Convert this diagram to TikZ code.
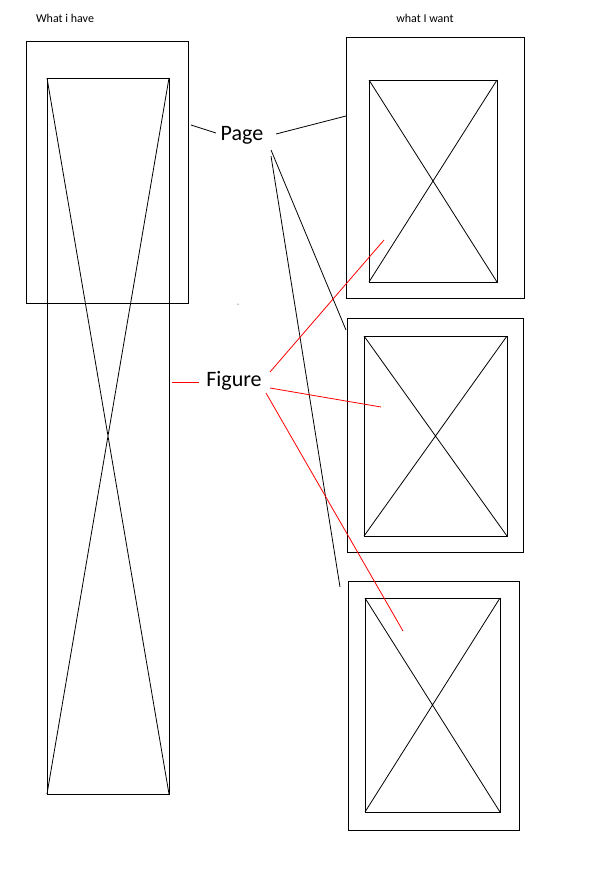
\documentclass[tikz,border=0pt]{standalone}
\usepackage{fontspec}
\setmainfont{Carlito}
\begin{document}
\begin{tikzpicture}[x=1pt,y=-1pt,line width=0.8pt,
  box/.style={draw=black,fill=none},
  lbl/.style={inner sep=0pt,font=\fontsize{22}{26}\selectfont},
  small/.style={inner sep=0pt,font=\fontsize{12}{14}\selectfont}]
\useasboundingbox (0,0) rectangle (604,892);
\fill[white] (0,0) rectangle (604,892);
\node[small] (t1) at (65,18) {What i have};
\node[small] (t2) at (425,18) {what I want};
% left
\draw[box] (26,41) rectangle (188,303);
\draw[box] (47,78) rectangle (169,794);
\draw (47,78) -- (169,794) (169,78) -- (47,794);
% right pages
\draw[box] (346,37) rectangle (524,298);
\draw[box] (369,80) rectangle (497,282);
\draw (369,80) -- (497,282) (497,80) -- (369,282);
\draw[box] (347,318) rectangle (523,552);
\draw[box] (364,336) rectangle (507,536);
\draw (364,336) -- (507,536) (507,336) -- (364,536);
\draw[box] (348,581) rectangle (519,830);
\draw[box] (365,598) rectangle (500,812);
\draw (365,598) -- (500,812) (500,598) -- (365,812);
\fill (238,304) circle (0.5);
\node[lbl] (pg) at (242,135) {Page};
\node[lbl] (fg) at (234,381) {Figure};
\coordinate (p1) at (216,133);
\draw (191,125) -- (p1);
\draw (276,134) -- (346,116);
\draw (271,150) -- (346,330);
\draw (271,156) -- (340,587);
\draw[red] (172,382) -- (199,382);
\draw[red] (270,372) -- (384,240);
\draw[red] (270,388) -- (381,407);
\draw[red] (266,393) -- (403,631);
\end{tikzpicture}
\end{document}
